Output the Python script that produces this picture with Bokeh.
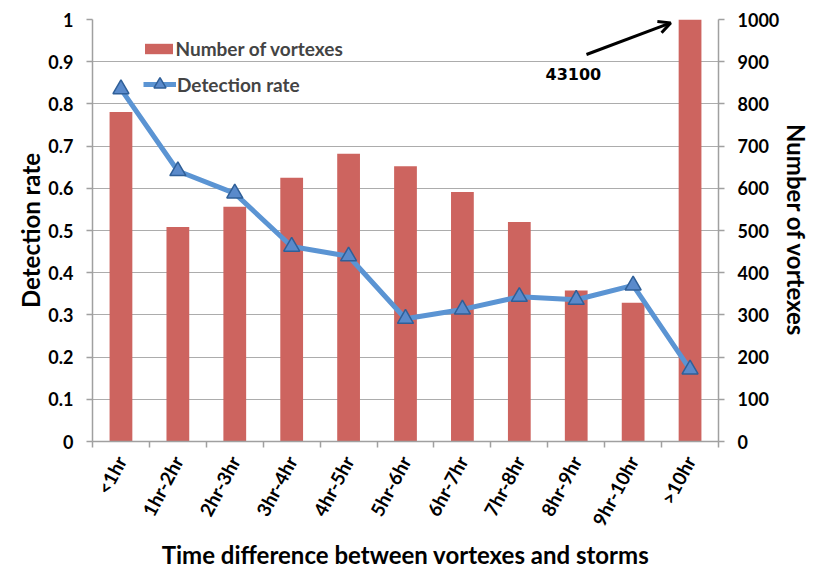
from bokeh.plotting import figure
from bokeh.models import (Range1d, LinearAxis, FixedTicker, Legend, LegendItem,
                          Arrow, OpenHead, Label, ColumnDataSource)
from bokeh.embed import file_html
from bokeh.resources import INLINE

# ---------------- data ----------------
categories = ["<1hr", "1hr-2hr", "2hr-3hr", "3hr-4hr", "4hr-5hr", "5hr-6hr",
              "6hr-7hr", "7hr-8hr", "8hr-9hr", "9hr-10hr", ">10hr"]
vortex_counts = [781, 508, 556, 625, 682, 652, 591, 520, 358, 329, 43100]
detection_rate = [0.835, 0.641, 0.588, 0.462, 0.439, 0.291, 0.313, 0.343,
                  0.336, 0.370, 0.171]
rate_ticks = [0, 0.1, 0.2, 0.3, 0.4, 0.5, 0.6, 0.7, 0.8, 0.9, 1]
rate_tick_labels = ["0", "0.1", "0.2", "0.3", "0.4", "0.5", "0.6", "0.7",
                    "0.8", "0.9", "1"]
count_ticks = [0, 100, 200, 300, 400, 500, 600, 700, 800, 900, 1000]

# ---------------- style ----------------
FONT = "Lato"
BAR = "#CD645F"
LINE = "#5B94D3"
TRI_FILL = "#5A8ACB"
TRI_LINE = "#2F5F98"
AXIS = "#A0A0A0"
GRID = "#ACACAC"

n = len(categories)
x_pos = [i + 0.5 for i in range(n)]
source = ColumnDataSource(dict(x=x_pos, cat=categories, count=vortex_counts,
                               rate=detection_rate))

p = figure(frame_width=626, frame_height=422,
           x_range=Range1d(0, n), y_range=Range1d(0, 1),
           output_backend="svg", toolbar_location=None,
           min_border_left=92, min_border_right=100,
           min_border_top=19, min_border_bottom=125)
p.extra_y_ranges = {"count": Range1d(0, 1000)}
p.outline_line_color = None
p.background_fill_color = "white"
p.border_fill_color = "white"

bars = p.vbar(x="x", top="count", bottom=0, width=0.4, y_range_name="count",
              source=source, fill_color=BAR, line_color=None)
line = p.line(x="x", y="rate", source=source, line_color=LINE, line_width=5,
              line_join="round")
marks = p.scatter(x="x", y="rate", source=source, marker="triangle", size=16,
                  fill_color=TRI_FILL, line_color=TRI_LINE, line_width=1.5)


def style_axis(ax):
    ax.axis_line_color = AXIS
    ax.axis_line_width = 1.5
    ax.major_tick_line_color = AXIS
    ax.major_tick_line_width = 1.5
    ax.major_tick_out = 6
    ax.major_tick_in = 0
    ax.minor_tick_line_color = None
    ax.major_label_text_font = FONT
    ax.major_label_text_font_style = "bold"
    ax.major_label_text_font_size = "18px"
    ax.major_label_text_color = "black"
    ax.axis_label_text_font = FONT
    ax.axis_label_text_font_style = "bold"
    ax.axis_label_text_font_size = "24px"
    ax.axis_label_text_color = "black"


# left axis
left = p.yaxis[0]
left.ticker = FixedTicker(ticks=rate_ticks)
left.major_label_overrides = dict(zip(rate_ticks, rate_tick_labels))
style_axis(left)
left.major_label_standoff = 13
left.axis_label = "Detection rate"
left.axis_label_standoff = 0

# right axis
right = LinearAxis(y_range_name="count", ticker=FixedTicker(ticks=count_ticks))
style_axis(right)
right.major_label_standoff = 13
right.axis_label = "Number of vortexes"
right.axis_label_standoff = 0
p.add_layout(right, "right")

# bottom axis
bottom = p.xaxis[0]
bottom.ticker = FixedTicker(ticks=x_pos, minor_ticks=list(range(n + 1)))
bottom.major_label_overrides = dict(zip(x_pos, categories))
style_axis(bottom)
bottom.major_tick_line_color = None
bottom.minor_tick_line_color = AXIS
bottom.minor_tick_line_width = 1.5
bottom.minor_tick_out = 6
bottom.minor_tick_in = 0
bottom.major_label_orientation = 1.08
bottom.major_label_text_font_size = "19px"
bottom.major_label_standoff = 10
bottom.axis_label = "Time difference between vortexes and storms"
bottom.axis_label_standoff = 2

p.xgrid.visible = False
p.ygrid.ticker = FixedTicker(ticks=rate_ticks)
p.ygrid.grid_line_color = GRID
p.ygrid.grid_line_width = 1.2

# legends
leg_common = dict(margin=0, border_line_color=None, label_text_font=FONT,
                  label_text_font_style="bold", label_text_font_size="19px",
                  label_height=20)
leg1 = Legend(items=[LegendItem(label="Number of vortexes", renderers=[bars])],
              location=(48.5, 380.7), glyph_width=35, glyph_height=13,
              label_standoff=0, padding=8, background_fill_color="white",
              background_fill_alpha=1, **leg_common)
leg2 = Legend(items=[LegendItem(label="Detection rate", renderers=[line, marks])],
              location=(51, 342), glyph_width=33, glyph_height=30,
              label_standoff=1, padding=0, background_fill_alpha=0,
              **leg_common)
p.add_layout(leg1)
p.add_layout(leg2)

# annotation for the clipped bar
p.add_layout(Arrow(end=OpenHead(size=12, line_width=3, line_color="black"),
                   x_start=8.68, y_start=0.917, x_end=10.16, y_end=0.992,
                   line_width=3, line_color="black"))
p.add_layout(Label(x=8.45, y=0.872, text=str(vortex_counts[-1]),
                   text_align="center", text_baseline="middle",
                   text_font="DejaVu Sans", text_font_style="bold",
                   text_font_size="16px", text_color="black"))

open("out.html", "w").write(file_html(p, INLINE))
